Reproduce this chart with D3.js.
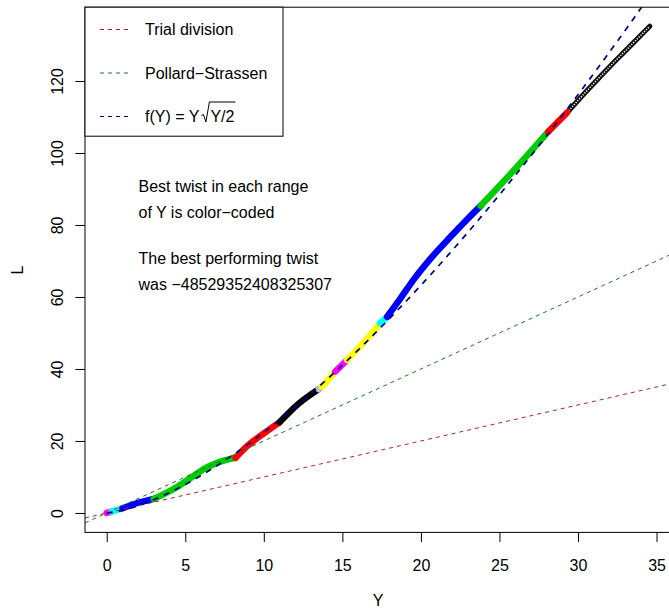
<!DOCTYPE html>
<html>
<head>
<meta charset="utf-8">
<script src="https://cdn.jsdelivr.net/npm/d3@7"></script>
<style>
  body { margin: 0; background: #fff; }
  text { font-family: "Liberation Sans", Arial, Helvetica, sans-serif; font-size: 16px; fill: #000; }
</style>
</head>
<body>
<svg id="chart"></svg>
<script>
// ---- data ----
const curveY = [0, 0.3, 1.0, 1.9, 3.0, 4.5, 5.5, 6.4, 7.2, 8.2, 8.9, 10.0, 11.0, 12.2, 13.5, 13.7,
  14.55, 15.3, 16.4, 17.4, 17.85, 18.7, 19.55, 20.6, 21.9, 23.0, 23.8, 26.0, 28.1, 29.3,
  30.0, 31.0, 32.0, 33.0, 34.57];
const curveL = [0, 0.4, 1.3, 2.7, 3.9, 7.3, 10.2, 12.7, 14.2, 15.3, 18.4, 22.1, 25.2, 30.3, 34.4, 35.1,
  39.3, 42.5, 47.6, 52.7, 54.5, 59.6, 64.9, 70.6, 76.8, 81.8, 85.3, 95.6, 105.9, 111.2,
  114.6, 119.3, 123.9, 128.3, 135.2];
// best twist per range of Y: start of each range and its R palette colour index
const breakY = [0, 0.3, 1.0, 3.0, 8.2, 11.0, 13.5, 13.7, 14.55, 15.3, 17.4, 17.85, 23.8, 28.1];
const breakEnd = 29.3;
const breakTwist = [6, 5, 4, 3, 2, 1, 8, 7, 6, 7, 5, 4, 3, 2];
const palette = ['#000000', '#FF0000', '#00CD00', '#0000FF', '#00FFFF', '#FF00FF', '#FFFF00', '#BEBEBE'];

const xTicks = [0, 5, 10, 15, 20, 25, 30, 35];
const yTicks = [0, 20, 40, 60, 80, 100, 120];
const trialSlope = 1;
const pollardSlope = 2;
const legendLabels = ['Trial division', 'Pollard\u2212Strassen', 'f(Y) = Y'];
const legendColors = ['#A52A2A', '#1E7B1E', '#00008B'];
const noteLines = ['Best twist in each range', 'of Y is color\u2212coded',
  'The best performing twist', 'was \u221248529352408325307'];

// ---- layout ----
const width = 669;
const height = 611;
const x = d3.scaleLinear().domain([-1.383, 35.953]).range([85, 671.5]);
const y = d3.scaleLinear().domain([-5.4, 140.5]).range([532.4, 7.2]);

const svg = d3.select('#chart')
  .attr('width', width)
  .attr('height', height);

svg.append('defs').append('clipPath').attr('id', 'plotClip')
  .append('rect')
  .attr('x', x.range()[0]).attr('y', y.range()[1])
  .attr('width', x.range()[1] - x.range()[0])
  .attr('height', y.range()[0] - y.range()[1]);

// AXES
const xAxis = svg.append('g')
  .attr('transform', `translate(0, ${y.range()[0]})`)
  .call(d3.axisBottom(x).tickValues(xTicks).tickSize(9.6).tickFormat(d3.format('d')));
xAxis.select('.domain').remove();
xAxis.selectAll('text').attr('y', 38.5).attr('dy', null).attr('fill', '#000');
xAxis.selectAll('line').attr('stroke', '#000');

const yAxis = svg.append('g')
  .attr('transform', `translate(${x.range()[0]}, 0)`)
  .call(d3.axisLeft(y).tickValues(yTicks).tickSize(9.6).tickFormat(d3.format('d')));
yAxis.select('.domain').remove();
yAxis.selectAll('text')
  .attr('transform', 'rotate(-90)')
  .attr('x', 0).attr('y', -22).attr('dy', null)
  .attr('text-anchor', 'middle').attr('fill', '#000');
yAxis.selectAll('line').attr('stroke', '#000');

svg.append('text').attr('x', 378).attr('y', 606).attr('text-anchor', 'middle').text('Y');
svg.append('text').attr('transform', 'translate(23, 270) rotate(-90)')
  .attr('text-anchor', 'middle').text('L');

// CURVE OF MEASURED L, COLOURED BY BEST TWIST
const plot = svg.append('g').attr('clip-path', 'url(#plotClip)');
const pts = curveY.map((v, i) => [v, curveL[i]]);
const line = d3.line().x(d => x(d[0])).y(d => y(d[1])).curve(d3.curveMonotoneX);

const tail = pts.filter(d => d[0] >= breakEnd);
plot.append('path').attr('d', line(tail))
  .attr('fill', 'none').attr('stroke', '#111').attr('stroke-width', 5.2)
  .attr('stroke-linecap', 'round');
plot.append('path').attr('d', line(tail))
  .attr('fill', 'none').attr('stroke', '#fff').attr('stroke-width', 1.5)
  .attr('stroke-dasharray', '1.2 1.4');

breakY.forEach((start, i) => {
  const end = i < breakY.length - 1 ? breakY[i + 1] : breakEnd;
  const seg = pts.filter(d => d[0] >= start && d[0] <= end);
  plot.append('path').attr('d', line(seg))
    .attr('fill', 'none')
    .attr('stroke', palette[breakTwist[i] - 1])
    .attr('stroke-width', 6.5)
    .attr('stroke-linecap', 'round')
    .attr('stroke-linejoin', 'round');
});

// REFERENCE LINES
const xs = x.domain();
plot.append('line')
  .attr('x1', x(xs[0])).attr('y1', y(trialSlope * xs[0]))
  .attr('x2', x(xs[1])).attr('y2', y(trialSlope * xs[1]))
  .attr('stroke', legendColors[0]).attr('stroke-width', 1).attr('stroke-dasharray', '4 4');
plot.append('line')
  .attr('x1', x(xs[0])).attr('y1', y(pollardSlope * xs[0]))
  .attr('x2', x(xs[1])).attr('y2', y(pollardSlope * xs[1]))
  .attr('stroke', legendColors[1]).attr('stroke-width', 1).attr('stroke-dasharray', '4 4');
const fY = d3.range(0, 36.01, 0.1).map(v => [v, v * Math.sqrt(v / 2)]);
plot.append('path').attr('d', d3.line().x(d => x(d[0])).y(d => y(d[1]))(fY))
  .attr('fill', 'none').attr('stroke', legendColors[2])
  .attr('stroke-width', 1.7).attr('stroke-dasharray', '6 6');

// PLOT BOX
svg.append('rect')
  .attr('x', x.range()[0]).attr('y', y.range()[1])
  .attr('width', x.range()[1] - x.range()[0])
  .attr('height', y.range()[0] - y.range()[1])
  .attr('fill', 'none').attr('stroke', '#000').attr('stroke-width', 1);

// LEGEND
const legend = svg.append('g');
legend.append('rect')
  .attr('x', 85).attr('y', 7.2).attr('width', 198).attr('height', 129)
  .attr('fill', '#fff').attr('stroke', '#000').attr('stroke-width', 1);
const rowY = [29.5, 73, 116.5];
legendLabels.forEach((lab, i) => {
  legend.append('line')
    .attr('x1', 100).attr('x2', 130).attr('y1', rowY[i]).attr('y2', rowY[i])
    .attr('stroke', legendColors[i]).attr('stroke-width', 1).attr('stroke-dasharray', '4 4');
  const t = legend.append('text').attr('x', 145).attr('y', rowY[i] + 5.5).text(lab);
  if (i === 2) {
    const x0 = 145 + t.node().getComputedTextLength() + 2;
    const top = rowY[i] - 14.5;
    const inner = legend.append('text').attr('x', x0 + 9).attr('y', rowY[i] + 5.5).text('Y/2');
    const x1 = x0 + 9 + inner.node().getComputedTextLength() + 1;
    legend.append('path')
      .attr('d', `M${x0},${rowY[i] - 1} L${x0 + 2},${rowY[i] - 2} L${x0 + 4.5},${rowY[i] + 5.5} L${x0 + 8},${top} L${x1},${top}`)
      .attr('fill', 'none').attr('stroke', '#000').attr('stroke-width', 1);
  }
});

// NOTES
const noteBase = [192, 218, 264, 290];
noteLines.forEach((s, i) => {
  svg.append('text').attr('x', 138.5).attr('y', noteBase[i]).text(s);
});
</script>
</body>
</html>
